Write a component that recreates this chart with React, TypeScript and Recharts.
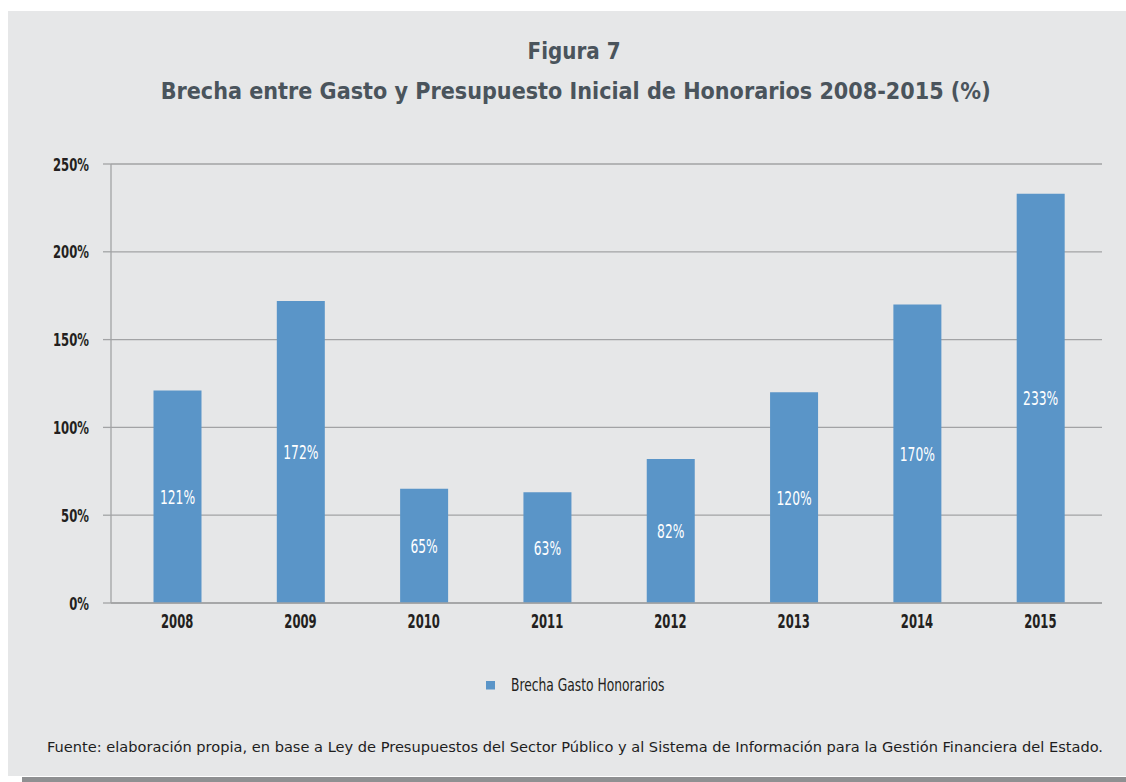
import React from 'react';
import { BarChart, Bar, XAxis, YAxis, CartesianGrid, LabelList, Legend } from 'recharts';

const years = ['2008', '2009', '2010', '2011', '2012', '2013', '2014', '2015'];
const brecha = [121, 172, 65, 63, 82, 120, 170, 233];
const yTicks = [0, 50, 100, 150, 200, 250];
const seriesName = 'Brecha Gasto Honorarios';
const titleLine1 = 'Figura 7';
const titleLine2 = 'Brecha entre Gasto y Presupuesto Inicial de Honorarios 2008-2015 (%)';
const sourceNote =
  'Fuente: elaboración propia, en base a Ley de Presupuestos del Sector Público y al Sistema de Información para la Gestión Financiera del Estado.';

const data = years.map((y, i) => ({ year: y, value: brecha[i] }));

const BAR = '#5a95c8';
const GRID = '#a2a3a5';
const DARK = '#231f20';
const TITLE = '#4a545c';
const COND = "'DejaVu Sans Condensed', 'Liberation Sans Narrow', sans-serif";

function CondText(props: any) {
  const { x, y, text, size, fill, anchor, sx, weight } = props;
  return (
    <text
      transform={`translate(${x},${y}) scale(${sx},1)`}
      textAnchor={anchor}
      fontFamily={COND}
      fontSize={size}
      fill={fill}
      fontWeight={weight}
    >
      {text}
    </text>
  );
}

const YTick = (props: any) => {
  const { x, y, payload } = props;
  return <CondText x={x} y={y + 6.5} text={`${payload.value}%`} size={18} fill={DARK} anchor="end" sx={0.72} weight={600} />;
};

const XTick = (props: any) => {
  const { x, y, payload } = props;
  return <CondText x={x} y={y + 25} text={payload.value} size={19} fill={DARK} anchor="middle" sx={0.68} weight={600} />;
};

const BarLabel = (props: any) => {
  const { x, y, width, height, value } = props;
  return (
    <CondText x={x + width / 2} y={y + height / 2 + 7} text={`${value}%`} size={19} fill="#ffffff" anchor="middle" sx={0.72} weight={400} />
  );
};

const LegendContent = () => (
  <svg width={1126} height={30} style={{ display: 'block' }}>
    <rect x={486} y={11} width={9} height={8.5} fill={BAR} />
    <CondText x={511} y={21} text={seriesName} size={18} fill={DARK} anchor="start" sx={0.76} weight={400} />
  </svg>
);

export default function App() {
  return (
    <div style={{ position: 'absolute', left: 0, top: 0, width: 1126, height: 782, background: '#ffffff', overflow: 'hidden' }}>
      <div style={{ position: 'absolute', left: 8, top: 11, width: 1118, height: 765, background: '#e6e7e8' }} />
      <div style={{ position: 'absolute', left: 22, top: 777, width: 1104, height: 5, background: '#8f9092' }} />
      <div style={{ position: 'absolute', left: 0, top: 0 }}>
        <BarChart
          width={1126}
          height={782}
          data={data}
          margin={{ top: 164, right: 24, bottom: 149, left: 0 }}
          barSize={48}
        >
          <CartesianGrid horizontal vertical={false} stroke={GRID} strokeWidth={1.3} />
          <XAxis
            dataKey="year"
            axisLine={{ stroke: GRID, strokeWidth: 1.3 }}
            tickLine={false}
            tickSize={0}
            tickMargin={0}
            height={30}
            padding={{ left: 4.5, right: 0 }}
            tick={<XTick />}
            interval={0}
          />
          <YAxis
            width={111}
            domain={[0, 250]}
            ticks={yTicks}
            axisLine={{ stroke: GRID, strokeWidth: 1.3 }}
            tickLine={{ stroke: GRID, strokeWidth: 1.3 }}
            tickSize={8}
            tickMargin={14}
            tick={<YTick />}
            interval={0}
          />
          <Legend
            layout="horizontal"
            verticalAlign="middle"
            align="center"
            wrapperStyle={{ top: 670, left: 0, width: 1126, height: 30 }}
            content={<LegendContent />}
          />
          <Bar dataKey="value" name={seriesName} fill={BAR} isAnimationActive={false}>
            <LabelList dataKey="value" content={<BarLabel />} />
          </Bar>
        </BarChart>
      </div>
      <svg width={1126} height={782} style={{ position: 'absolute', left: 0, top: 0, pointerEvents: 'none' }}>
        <text x={527.6} y={59} textLength={93} lengthAdjust="spacingAndGlyphs" fontFamily="'DejaVu Sans Condensed', 'DejaVu Sans', sans-serif" fontWeight="bold" fontSize={23} fill={TITLE}>
          {titleLine1}
        </text>
        <text x={160.7} y={99} textLength={830} lengthAdjust="spacingAndGlyphs" fontFamily="'DejaVu Sans Condensed', 'DejaVu Sans', sans-serif" fontWeight="bold" fontSize={23} fill={TITLE}>
          {titleLine2}
        </text>
        <text x={47} y={752} textLength={1056} lengthAdjust="spacingAndGlyphs" fontFamily="'DejaVu Sans', sans-serif" fontSize={14.5} fill="#1e1e1e">
          {sourceNote}
        </text>
      </svg>
    </div>
  );
}
